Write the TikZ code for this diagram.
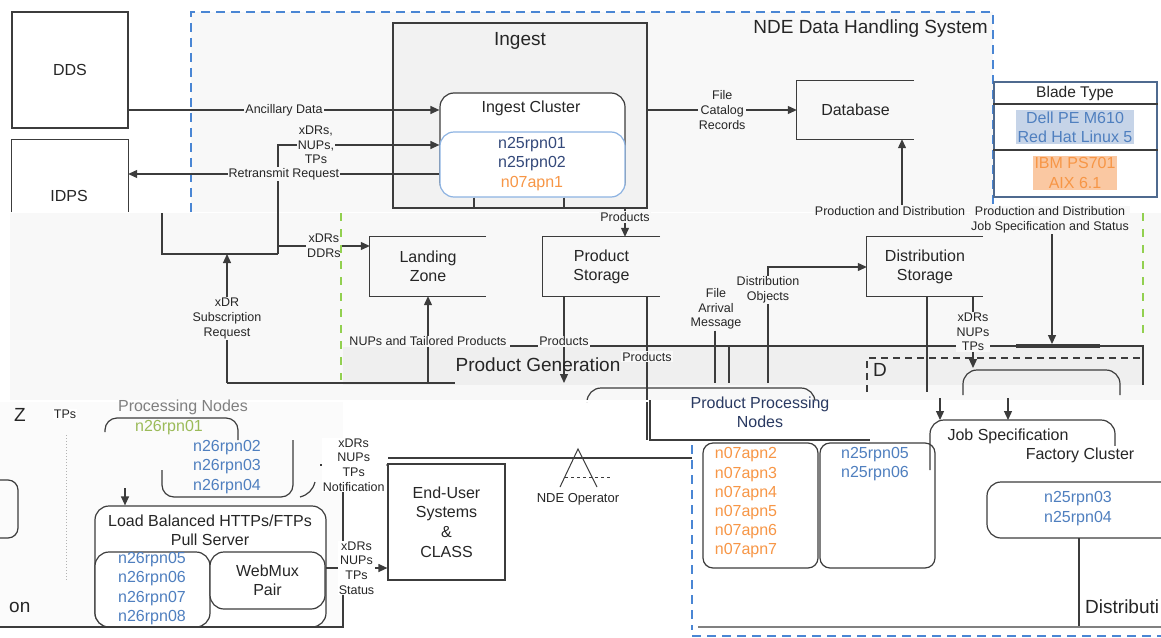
\documentclass[tikz,border=0pt]{standalone}
\usepackage{fontspec}
\setmainfont{Liberation Sans}
\usetikzlibrary{arrows.meta,calc}
\definecolor{lncol}{HTML}{3C3C3C}
\definecolor{ndefill}{HTML}{F8F8F8}
\definecolor{ingfill}{HTML}{F2F2F2}
\definecolor{pgfillc}{HTML}{EFEFEF}
\definecolor{dblue}{HTML}{4A86D4}
\definecolor{lgreen}{HTML}{92D050}
\definecolor{nblue}{HTML}{4F7FBF}
\definecolor{ndark}{HTML}{34497A}
\definecolor{norange}{HTML}{F79646}
\definecolor{ngreen}{HTML}{9BBB59}
\definecolor{bluehl}{HTML}{C6D4E8}
\definecolor{orangehl}{HTML}{FAC8A2}
\definecolor{icnborder}{HTML}{8DB3E2}
\definecolor{bladeborder}{HTML}{4F6A8F}
\definecolor{txt}{HTML}{262626}
\begin{document}
\begin{tikzpicture}[x=1pt,y=-1pt,
  every node/.style={font=\fontsize{16}{19.2}\selectfont, text=txt, inner sep=0pt, align=center},
  big/.style={font=\fontsize{19}{22}\selectfont},
  lbl/.style={font=\fontsize{12.5}{14.6}\selectfont, align=center, fill=ndefill, inner sep=1pt},
  wlbl/.style={lbl, fill=white},
  wire/.style={draw=lncol, line width=1.2pt},
  arr/.style={wire, -{Triangle[length=9pt,width=8pt]}},
  sbox/.style={draw=lncol, line width=1.2pt, fill=white},
  rbox/.style={sbox, rounded corners=14pt},
  bdash/.style={draw=dblue, line width=1.6pt, dash pattern=on 9pt off 6pt},
  gdash/.style={draw=lgreen, line width=1.6pt, dash pattern=on 8pt off 8pt},
  store/.style={minimum width=116pt, minimum height=59pt}
]
\useasboundingbox (0,0) rectangle (1161,637);
\fill[white] (0,0) rectangle (1161,637);
% backgrounds
\fill[ndefill] (191,12) rectangle (993,212);
\fill[ndefill] (10,213) rectangle (1161,400);
\fill[pgfillc] (343,347) rectangle (1143,385);
\fill[ndefill!60!white] (0,400) rectangle (343,627);

% NDE border
\draw[bdash] (191,212) -- (191,12) -- (993,12) -- (993,212);
\node[big, anchor=east] (ndet) at (988,29) {NDE Data Handling System};

% external boxes
\node[sbox, minimum width=116pt, minimum height=116pt] (dds) at (70,70) {DDS};
\node[fill=white, minimum width=116pt, minimum height=72pt] (idps) at (70,176) {};
\draw[wire] (idps.south west) -- (idps.north west) -- (idps.north east) -- (idps.south east);
\node (idpsl) at (69,196) {IDPS};

% Ingest
\node[sbox, fill=ingfill, minimum width=254pt, minimum height=185pt] (ing) at (520,115.5) {};
\node[big] (ingt) at (520,41) {Ingest};
\node[rbox, minimum width=185pt, minimum height=103pt] (icl) at (532.5,144.5) {};
\node (iclt) at (531,108) {Ingest Cluster};
\node[rbox, draw=icnborder, minimum width=185pt, minimum height=65pt] (icn) at (532.5,164.5) {};
\node (icnt) at (532,164) {\textcolor{ndark}{n25rpn01}\\\textcolor{ndark}{n25rpn02}\\\textcolor{norange}{n07apn1}};
\draw[wire] (icn.south -| 474,0) -- (ing.south -| 474,0);
\draw[wire] (icn.south -| 564,0) -- (ing.south -| 564,0);

% Database
\node[minimum width=117pt, minimum height=58pt] (db) at (855.5,110) {Database};
\draw[wire] (db.north east) -- (db.north west) -- (db.south west) -- (db.south east);

% Blade table
\node[draw=bladeborder, line width=1.2pt, fill=white, minimum width=163pt, minimum height=115pt] (blade) at (1075.5,139.5) {};
\draw[wire] (blade.west |- 0,104) -- (blade.east |- 0,104);
\draw[wire] (blade.west |- 0,150) -- (blade.east |- 0,150);
\node[font=\fontsize{15.5}{18}\selectfont] (bladet) at (1075,93) {Blade Type};
\node[fill=bluehl, text=nblue, inner sep=2pt] (dell) at (1075,127) {Dell PE M610\\Red Hat Linux 5};
\node[fill=orangehl, text=norange, inner sep=2pt] (ibm) at (1075,173) {IBM PS701\\AIX 6.1};

% connectors top
\coordinate (idpsb) at (278,254);
\draw[arr] (dds.east |- 0,110) -- node[lbl]{Ancillary Data} (icl.west |- 0,110);
\draw[wire] (162,213) -- (162,254) -- (idpsb);
\draw[arr] (idpsb) -- (278,145) -- node[lbl, pos=0.235]{xDRs,\\NUPs,\\TPs} (icl.west |- 0,145);
\draw[arr] (icn.west |- 0,174) -- node[lbl]{Retransmit Request} (idps.east |- 0,174);
\draw[arr] (ing.east |- 0,110) -- node[lbl]{File\\Catalog\\Records} (db.west |- 0,110);

% storages
\node[store] (lz) at (428,266.5) {Landing\\Zone};
\node[store, minimum width=117pt] (ps) at (601.5,266.5) {Product\\Storage};
\node[store] (ds) at (925,266.5) {Distribution\\Storage};
\foreach \s in {lz,ps,ds} \draw[wire] (\s.north east) -- (\s.north west) -- (\s.south west) -- (\s.south east);

\draw[arr] (ing.south -| 625,0) -- node[lbl, pos=0.3]{Products} (ps.north -| 625,0);
\draw[arr] (idpsb |- 0,246) -- node[lbl]{xDRs\\DDRs} (lz.west |- 0,246);
\draw[arr] (227,383) -- node[lbl]{xDR\\Subscription\\Request} (idpsb -| 227,0);

% green dashed
\draw[gdash] (341,213) -- (341,380);
\draw[gdash] (1143,213) -- (1143,340);

% product generation lines
\draw[wire] (510,346) -- (1143,346) -- (1143,385);
\draw[wire] (227,383) -- (455,383);
\draw[arr] (428,383) -- node[lbl, pos=0.48]{NUPs and Tailored Products} (lz.south -| 428,0);
\draw[arr] (ps.south -| 564,0) -- node[lbl, pos=0.52]{Products} (564,383);
\draw[wire] (ps.south -| 647,0) -- node[lbl, pos=0.42]{Products} (647,440);
\node[big] (pgt) at (538,365) {Product Generation};

\node[lbl] (fam) at (716,309) {File\\Arrival\\Message};
\draw[wire] (fam.south -| 715,0) -- (715,383);
\draw[wire] (729,346) -- (729,383);
\node[lbl] (dob) at (768,290) {Distribution\\Objects};
\draw[wire] (768,383) -- (dob.south);
\draw[arr] (dob.north) -- (768,267) -- (ds.west |- 0,267);

\draw[wire] (ds.south -| 927,0) -- (927,392);
\draw[arr] (ds.south -| 973,0) -- node[lbl]{xDRs\\NUPs\\TPs} (973,368);

\node[lbl] (pdl) at (890,211) {Production and Distribution};
\draw[arr] (pdl.north -| 902,0) -- (db.south -| 902,0);
\node[lbl] (jst) at (1050,220) {Production and Distribution\\Job Specification and Status};
\node[fill=lncol, minimum width=84pt, minimum height=3.5pt] (bar) at (1058,346) {};
\draw[arr] (jst.south -| 1052,0) -- (bar.north -| 1052,0);

% D region
\draw[wire, dash pattern=on 7pt off 5pt] (867,392) -- (867,358) -- (1140,358);
\node[big] (dlab) at (880,370) {D};
\draw[wire, rounded corners=14pt] (963,395) -- (963,370) -- (1120,370) -- (1120,395);

% Product processing nodes
\draw[wire, rounded corners=14pt] (587,400) -- (587,388) -- (815,388) -- (815,400);
\fill[white] (0,400) rectangle (1161,402);
\node[text=ndark!80!black] (ppt) at (760,404) {Product Processing};
\node[text=ndark!80!black] (ppn) at (760,422) {Nodes};
\draw[wire] (650,400) -- (650,440) -- (870,440);
\node[rbox, rounded corners=10pt, minimum width=115pt, minimum height=125pt] (obox) at (760.5,505.5) {};
\node[text=norange] (olist) at (746,503) {n07apn2\\n07apn3\\n07apn4\\n07apn5\\n07apn6\\n07apn7};
\node[rbox, rounded corners=10pt, minimum width=115pt, minimum height=125pt] (bbox) at (877.5,505.5) {};
\node[text=nblue, anchor=north] (blist) at (875,447) {n25rpn05\\n25rpn06};

% Job specification / factory
\draw[arr] (940,398) -- (940,420);
\draw[arr] (1008,398) -- (1008,420);
\draw[wire, rounded corners=14pt] (930,470) -- (930,420) -- (1115,420) -- (1115,450);
\node (jsp) at (1008,436) {Job Specification};
\node[fill=white, inner sep=2pt] (fct) at (1080,455) {Factory Cluster};
\draw[wire, rounded corners=14pt] (1175,482) -- (987,482) -- (987,538) -- (1175,538);
\node[text=nblue] (flist) at (1078,508.5) {n25rpn03\\n25rpn04};
\draw[wire] (1079,538) -- (1079,627);
\draw[wire, draw=gray] (698,627) -- (1161,627);
\node[big, anchor=west] (distl) at (1085,607) {Distributi};

% blue dashed lower
\draw[bdash] (692,445) -- (692,630);
\draw[bdash] (692,636) -- (1161,636);

% NDE operator
\draw[wire, line width=1pt] (560,487) -- (578,449) -- (597,487);
\draw[lncol, line width=0.6pt, dashed] (565,477) -- (610,477);
\node[font=\fontsize{13}{15}\selectfont] (opl) at (578,499) {NDE Operator};
\draw[wire] (388,458) -- (692,458);

% lower left
\node[big] (zl) at (20,415) {Z};
\node[wlbl] (tpsl) at (65,414) {TPs};
\node[text=gray] (pnt) at (183,407) {Processing Nodes};
\draw[wire, rounded corners=12pt] (105,432) -- (105,418) -- (238,418) -- (238,440);
\node[text=ngreen] (p1) at (169,428) {n26rpn01};
\draw[wire, rounded corners=12pt] (162,470) -- (162,497) -- (293,497) -- (293,440);
\node[text=nblue] (p2) at (227,467) {n26rpn02\\n26rpn03\\n26rpn04};
\draw[wire] (300,497) to[bend right=30] (315,482);
\draw[gray!60, dotted, line width=1pt] (66,435) -- (66,580);
\draw[wire, rounded corners=10pt] (0,480) -- (18,480) -- (18,538) -- (0,538);
\node[big, anchor=west] (onl) at (9,607) {on};

\node[rbox, minimum width=231pt, minimum height=121pt] (lb) at (210.5,566.5) {};
\node (lbt) at (210,530) {Load Balanced HTTPs/FTPs\\Pull Server};
\node[rbox, minimum width=115pt, minimum height=75pt] (lbn) at (152.5,589.5) {};
\node[text=nblue] (lbl4) at (152,588.5) {n26rpn05\\n26rpn06\\n26rpn07\\n26rpn08};
\node[rbox, minimum width=115pt, minimum height=57pt] (wm) at (267.5,580.5) {WebMux\\Pair};
\draw[arr] (125,488) -- (lb.north -| 125,0);

\node[sbox, minimum width=117pt, minimum height=116pt, font=\fontsize{16}{19.7}\selectfont] (eu) at (446.5,522) {End-User\\Systems\\\&\\CLASS};
\draw[wire] (343,440) -- (343,627) -- (0,627);
\draw[arr] (320,465) -- node[wlbl]{xDRs\\NUPs\\TPs\\Notification} (eu.west |- 0,465);
\draw[arr] (wm.east |- 0,568) -- node[wlbl]{xDRs\\NUPs\\TPs\\Status} (eu.west |- 0,568);
\end{tikzpicture}
\end{document}
